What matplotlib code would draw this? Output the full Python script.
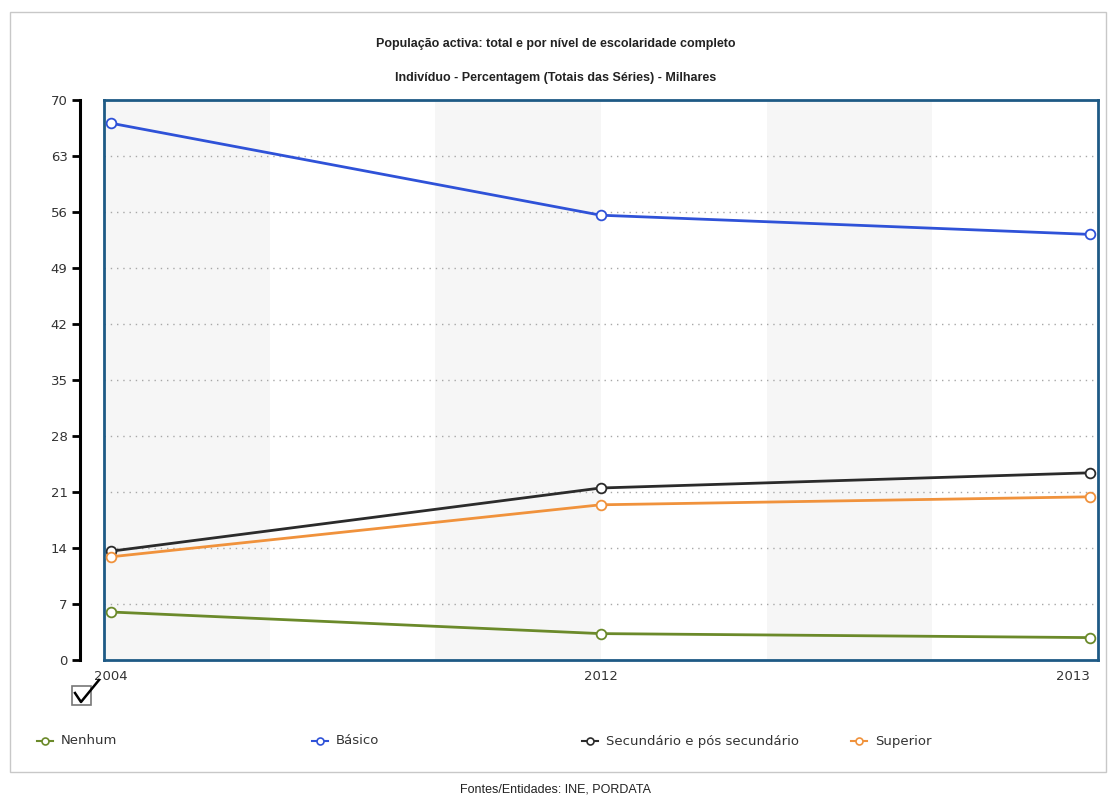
import numpy as np
import matplotlib
matplotlib.use('Agg')
import matplotlib.pyplot as plt
from matplotlib.lines import Line2D
from matplotlib.patches import Rectangle

years = ['2004', '2012', '2013']
nenhum = [6.0, 3.3, 2.8]
basico = [67.1, 55.6, 53.2]
secundario = [13.6, 21.5, 23.4]
superior = [12.9, 19.4, 20.4]
series_names = ['Nenhum', 'Básico', 'Secundário e pós secundário', 'Superior']
series_vals = [nenhum, basico, secundario, superior]
colors = ['#6b8a2a', '#2f52d8', '#2b2b2b', '#f0923c']
yticks = list(range(0, 71, 7))

W, H = 1111, 796
fig = plt.figure(figsize=(W / 100, H / 100), dpi=100, facecolor='white')

def fx(px): return px / W
def fy(py): return 1 - py / H

# outer box
fig.add_artist(Rectangle((fx(10), fy(772)), fx(1106) - fx(10), fy(12) - fy(772),
                         transform=fig.transFigure, fill=False, edgecolor='#c8c8c8', lw=1))

# titles
fig.text(0.5, fy(44), 'População activa: total e por nível de escolaridade completo',
         ha='center', va='center', fontsize=9, fontweight='bold', color='#222222', family='Liberation Sans')
fig.text(0.5, fy(78), 'Indivíduo - Percentagem (Totais das Séries) - Milhares',
         ha='center', va='center', fontsize=9, fontweight='bold', color='#222222', family='Liberation Sans')

# main plot area
ax = fig.add_axes([fx(104), fy(660), fx(1098) - fx(104), fy(100) - fy(660)])
x = np.arange(len(years))
xmin, xmax = -0.0143, 2.016
ax.set_xlim(xmin, xmax)
ax.set_ylim(0, 70)
edges = np.linspace(xmin, xmax, 7)
for i in range(0, 6, 2):
    ax.axvspan(edges[i], edges[i + 1], color='#f6f6f6', zorder=0, lw=0)
for t in yticks[1:-1]:
    ax.axhline(t, color='#a8a8a8', lw=1, linestyle=(0, (1, 3.5)), zorder=1)

for name, vals, c in zip(series_names, series_vals, colors):
    ax.plot(x, vals, color=c, lw=2, marker='o', markersize=7, markerfacecolor='white',
            markeredgecolor=c, markeredgewidth=1.3, zorder=3, clip_on=False)

for s in ax.spines.values():
    s.set_color('#1e5a85')
    s.set_linewidth(2)
ax.set_yticks([])
ax.set_xticks(x)
ax.set_xticklabels(years, fontsize=9.5, color='#333333')
ax.tick_params(axis='x', length=0, pad=7)
ax.get_xticklabels()[-1].set_horizontalalignment('right')
ax.get_xticklabels()[-1].set_x(x[-1])

# separate y axis line
yax = fig.add_axes([fx(80), fy(660), 0.0001, fy(100) - fy(660)])
yax.set_ylim(0, 70)
yax.set_xticks([])
yax.set_yticks(yticks)
yax.set_yticklabels([str(t) for t in yticks], fontsize=9.5, color='#333333')
yax.tick_params(axis='y', length=6, width=2, color='black', pad=3)
for k in ['top', 'right', 'bottom']:
    yax.spines[k].set_visible(False)
yax.spines['left'].set_linewidth(2.2)
yax.spines['left'].set_color('black')
yax.patch.set_visible(False)

# checkbox icon
fig.add_artist(Rectangle((fx(72), fy(705)), fx(91) - fx(72), fy(686) - fy(705),
                         transform=fig.transFigure, fill=False, edgecolor='#777777', lw=1.2))
fig.add_artist(Line2D([fx(75), fx(81), fx(99)], [fy(693), fy(702), fy(680)],
                      transform=fig.transFigure, color='black', lw=1.8))

# legend
leg_x = [45, 320, 590, 859]
for lx, name, c in zip(leg_x, series_names, colors):
    fig.add_artist(Line2D([fx(lx - 8), fx(lx + 8)], [fy(741), fy(741)], transform=fig.transFigure,
                          color=c, lw=1.5))
    fig.add_artist(Line2D([fx(lx)], [fy(741)], transform=fig.transFigure, color=c, marker='o',
                          markersize=5, markerfacecolor='white', markeredgecolor=c, markeredgewidth=1.2))
    fig.text(fx(lx + 16), fy(741), name, ha='left', va='center', fontsize=9.5, color='#333333')

fig.text(0.5, fy(790), 'Fontes/Entidades: INE, PORDATA', ha='center', va='center',
         fontsize=9, color='#222222', family='Liberation Sans')

fig.savefig('out.png', dpi=100, facecolor='white')
